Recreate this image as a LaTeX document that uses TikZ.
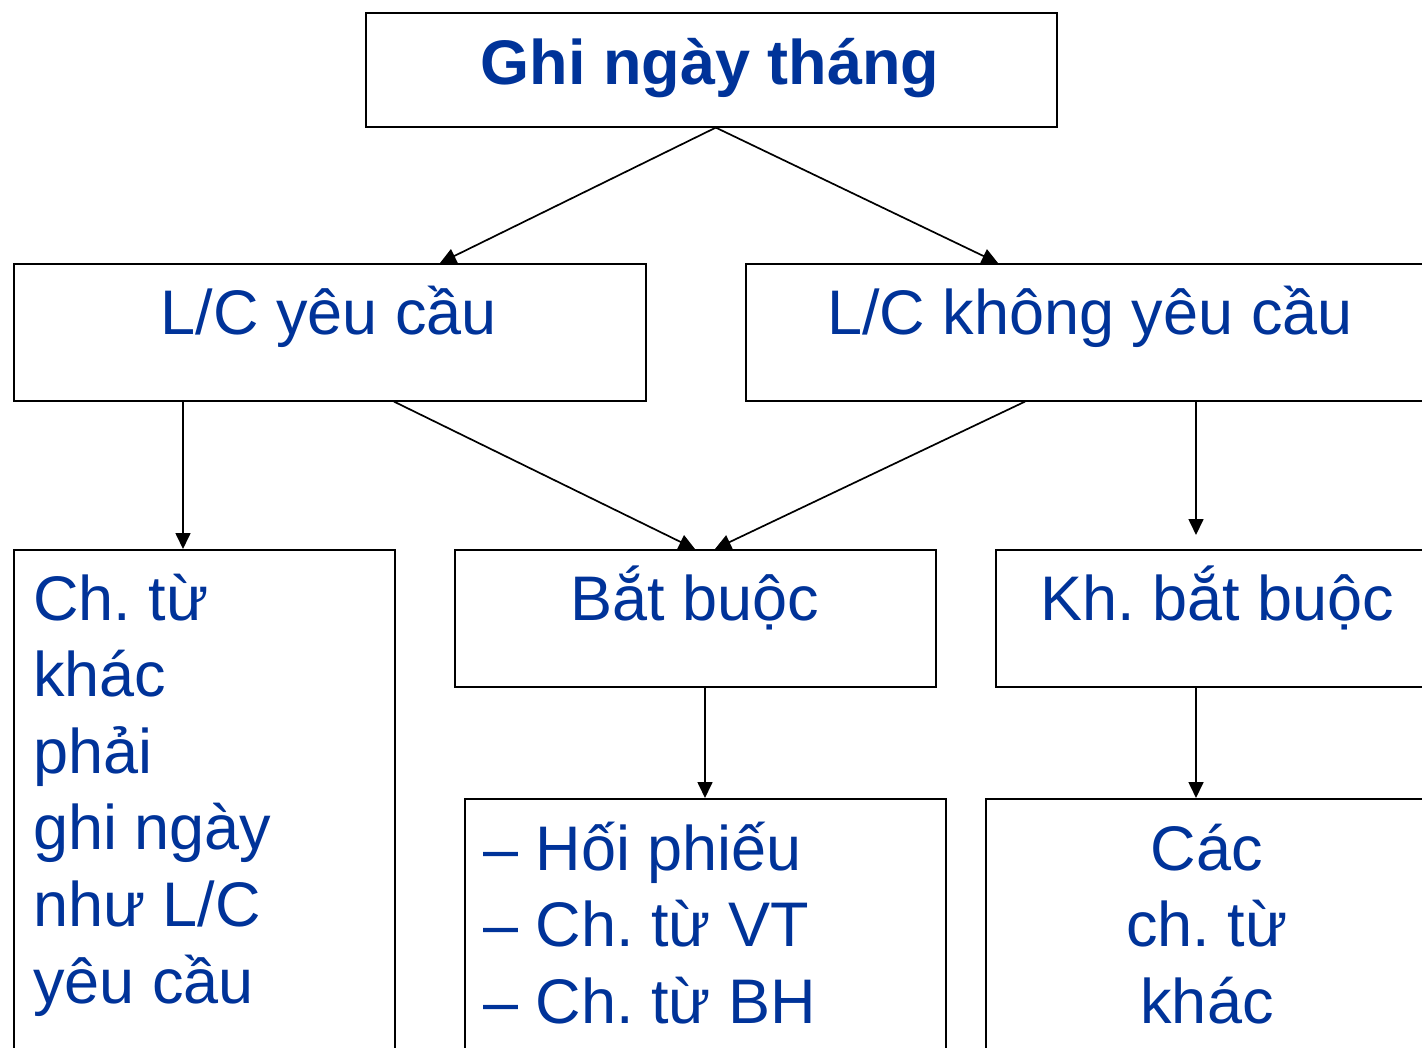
\documentclass[tikz,border=0pt]{standalone}
\usepackage{fontspec}
\setmainfont{Liberation Sans}
\usetikzlibrary{arrows.meta,calc}
\definecolor{txtblue}{RGB}{0,51,153}
\frenchspacing
\begin{document}
\begin{tikzpicture}[x=1pt,y=-1pt,
  box/.style={draw=black,line width=1.6pt,inner sep=0pt,anchor=north west},
  lbl/.style={text=txtblue,inner sep=0pt,font=\fontsize{63}{76.6}\selectfont\frenchspacing},
  arr/.style={line width=1.7pt,-{Triangle[length=16pt,width=15pt]}}]
\useasboundingbox (0,0) rectangle (1422,1048);
\clip (0,0) rectangle (1422,1048);
\fill[white] (0,0) rectangle (1422,1048);
% boxes
\node[box,minimum width=691pt,minimum height=114pt] (top) at (365,12) {};
\node[box,minimum width=632pt,minimum height=137pt] (lc1) at (13,263) {};
\node[box,minimum width=690pt,minimum height=137pt] (lc2) at (745,263) {};
\node[box,minimum width=381pt,minimum height=560pt] (chtu) at (13,549) {};
\node[box,minimum width=481pt,minimum height=137pt] (bb) at (454,549) {};
\node[box,minimum width=444pt,minimum height=137pt] (kbb) at (995,549) {};
\node[box,minimum width=481pt,minimum height=300pt] (hp) at (464,798) {};
\node[box,minimum width=444pt,minimum height=300pt] (cac) at (985,798) {};
% texts
\node[lbl,anchor=base,font={\fontsize{63}{76.6}\selectfont\bfseries}] (t0) at (710,85) {Ghi ngày tháng};
\node[lbl,anchor=base] (t1) at (329,335) {L/C yêu cầu};
\node[lbl,anchor=base] (t2) at (1090,335) {L/C không yêu cầu};
\node[lbl,anchor=base west] (t3) at (33,620) {\begin{tabular}[t]{@{}l@{}}Ch. từ\\khác\\phải\\ghi ngày\\như L/C\\yêu cầu\end{tabular}};
\node[lbl,anchor=base] (t4) at (695,620) {Bắt buộc};
\node[lbl,anchor=base] (t5) at (1217,620) {Kh. bắt buộc};
\node[lbl,anchor=base west] (t6) at (483,870) {\begin{tabular}[t]{@{}l@{}}– Hối phiếu\\– Ch. từ VT\\– Ch. từ BH\end{tabular}};
\node[lbl,anchor=base] (t7) at (1207,870) {\begin{tabular}[t]{@{}c@{}}Các\\ch. từ\\khác\end{tabular}};
% arrows
\draw[arr] ($(top.south)+(4.5,0)$) -- ($(lc1.north west)+(427,0)$);
\draw[arr] ($(top.south)+(4.5,0)$) -- ($(lc2.north west)+(253,0)$);
\draw[arr] ($(lc1.south west)+(170,0)$) -- ($(chtu.north west)+(170,0)$);
\draw[arr] ($(lc1.south west)+(381,0)$) -- ($(bb.north west)+(241,0)$);
\draw[arr] ($(lc2.south west)+(280,0)$) -- ($(bb.north west)+(261,0)$);
\draw[arr] ($(lc2.south west)+(451,0)$) -- ($(kbb.north west)+(201,-14)$);
\draw[arr] ($(bb.south west)+(251,0)$) -- ($(hp.north west)+(241,0)$);
\draw[arr] ($(kbb.south west)+(201,0)$) -- ($(cac.north west)+(211,0)$);
\end{tikzpicture}
\end{document}
